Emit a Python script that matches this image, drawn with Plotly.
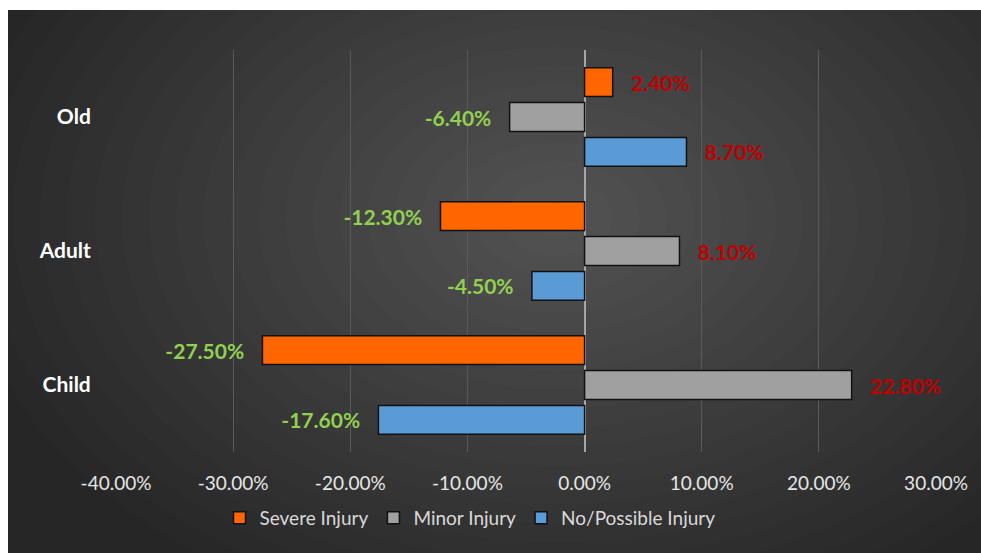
import plotly.graph_objects as go

# data
groups = ["Child", "Adult", "Old"]
severe = [-27.5, -12.3, 2.4]
minor = [22.8, 8.1, -6.4]
no_possible = [-17.6, -4.5, 8.7]
tick_vals = [-40, -30, -20, -10, 0, 10, 20, 30]
tick_text = ["-40.00%", "-30.00%", "-20.00%", "-10.00%", "0.00%", "10.00%", "20.00%", "30.00%"]

W, H = 973, 545
L, R, T, B = 108, 45, 42, 101
PW, PH = W - L - R, H - T - B


def px_x(x):
    return (x - L) / PW


def px_y(y):
    return (H - B - y) / PH


def labels(vals):
    nb = "\u00a0" * 3
    return [nb + f"{v:.2f}%" if v >= 0 else f"{v:.2f}%" + nb for v in vals]


def label_colors(vals):
    return ["#c00000" if v >= 0 else "#92d050" for v in vals]


fig = go.Figure()

series = [
    ("No/Possible Injury", no_possible, "#5b9bd5"),
    ("Minor Injury", minor, "#a0a0a0"),
    ("Severe Injury", severe, "#ff6600"),
]

for name, vals, color in series:
    fig.add_trace(
        go.Bar(
            y=groups,
            x=vals,
            name=name,
            orientation="h",
            marker=dict(color=color, line=dict(color="#111111", width=1.5)),
            text=labels(vals),
            textposition="outside",
            cliponaxis=False,
            textfont=dict(family="Lato", size=21, color=label_colors(vals), weight="bold"),
            hoverinfo="skip",
        )
    )

# soft radial highlight on the dark panel
shapes = []
cx, cy = 550, 210
n = 22
for i in range(n):
    f = 1 - i / n
    rx, ry = 600 * f, 420 * f
    shapes.append(
        dict(
            type="circle", xref="paper", yref="paper",
            x0=px_x(cx - rx), x1=px_x(cx + rx),
            y0=px_y(cy + ry), y1=px_y(cy - ry),
            fillcolor="rgba(255,255,255,0.0105)", line=dict(width=0), layer="below",
        )
    )
# thin white strip on top
shapes.append(dict(type="rect", xref="paper", yref="paper",
                   x0=px_x(-5), x1=px_x(W + 5), y0=px_y(2), y1=px_y(-5),
                   fillcolor="white", line=dict(width=0), layer="below"))

fig.update_layout(
    width=W,
    height=H,
    margin=dict(l=L, r=R, t=T, b=B),
    paper_bgcolor="#262626",
    plot_bgcolor="rgba(0,0,0,0)",
    barmode="group",
    bargap=0.22,
    bargroupgap=0.17,
    shapes=shapes,
    font=dict(family="Lato", color="#d9d9d9"),
    legend=dict(
        orientation="h",
        traceorder="reversed",
        x=px_x(462), xanchor="center",
        y=px_y(510), yanchor="middle",
        font=dict(size=19, color="#d9d9d9"),
        bgcolor="rgba(0,0,0,0)",
    ),
    xaxis=dict(
        range=[-40, 30],
        tickvals=tick_vals,
        ticktext=tick_text,
        tickfont=dict(size=19, color="#e6e6e6"),
        showgrid=True,
        gridcolor="#5a5a5a",
        gridwidth=1,
        zeroline=True,
        zerolinecolor="#a6a6a6",
        zerolinewidth=2,
        ticks="outside",
        ticklen=14,
        tickcolor="rgba(0,0,0,0)",
        fixedrange=True,
    ),
    yaxis=dict(
        categoryorder="array",
        categoryarray=groups,
        tickfont=dict(size=21, color="white", weight="bold"),
        showgrid=False,
        ticks="outside",
        ticklen=20,
        tickcolor="rgba(0,0,0,0)",
        fixedrange=True,
    ),
)

fig.write_html(
    "out.html",
    post_script="document.body.style.overflow = 'hidden'; document.body.style.marginRight = '0px';",
)
